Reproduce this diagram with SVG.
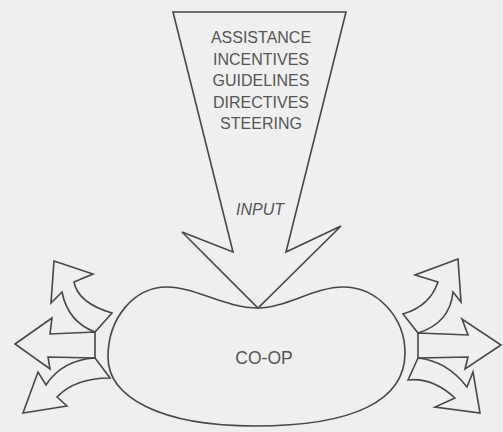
<svg xmlns="http://www.w3.org/2000/svg" width="503" height="432" viewBox="0 0 503 432">
<style>
.ln{fill:#efefef;stroke:#474747;stroke-width:1.6;stroke-linejoin:miter}
.t{font-family:"Liberation Sans",Arial,sans-serif;font-size:16px;fill:#555;text-anchor:middle}
</style>
<rect width="503" height="432" fill="#efefef"/>
<g id="coop">
<path class="ln" d="M258,308 C285,308 315,287 343,287 C377,287 405,317 405,353 C405,400 355,426 255,426 C160,426 108,397 108,357 C108,318 134,287 167,287 C195,287 225,308 258,308 Z"/>
<text class="t" x="264" y="364" style="font-size:17.5px">CO-OP</text>
</g>
<g id="input">
<path class="ln" d="M173,12 L346,12 L286,252 L341,226 L258,308 L182,232 L233,252 Z"/>
<text class="t" x="261" y="43">ASSISTANCE</text>
<text class="t" x="261" y="64.5">INCENTIVES</text>
<text class="t" x="261" y="86">GUIDELINES</text>
<text class="t" x="261" y="107.5">DIRECTIVES</text>
<text class="t" x="261" y="129">STEERING</text>
<text class="t" x="260" y="215" font-style="italic">INPUT</text>
</g>
<g id="outputs">
<path class="ln" d="M54,261 L93,274 L74,282 Q78,303 112,313 L95,332 Q68,322 62,292 L51,303 Z"/>
<path class="ln" d="M15,344 L52,318 L50,334 L95,332 L95,358 L48,357 L50,369 Z"/>
<path class="ln" d="M95,358 L110,378 Q75,378 57,397 L67,406 L23,413 L38,372 L46,385 Q62,360 95,358 Z"/>
<path class="ln" d="M458,259 L415,275 L438,282 Q430,306 403,314 L418,333 Q450,323 453,292 L461,302 Z"/>
<path class="ln" d="M418,333 L468,335 L462,319 L501,345 L465,369 L468,357 L418,358 Z"/>
<path class="ln" d="M418,358 L408,380 Q432,377 455,398 L435,407 L480,413 L473,372 L467,387 Q447,361 418,358 Z"/>
</g>
</svg>
